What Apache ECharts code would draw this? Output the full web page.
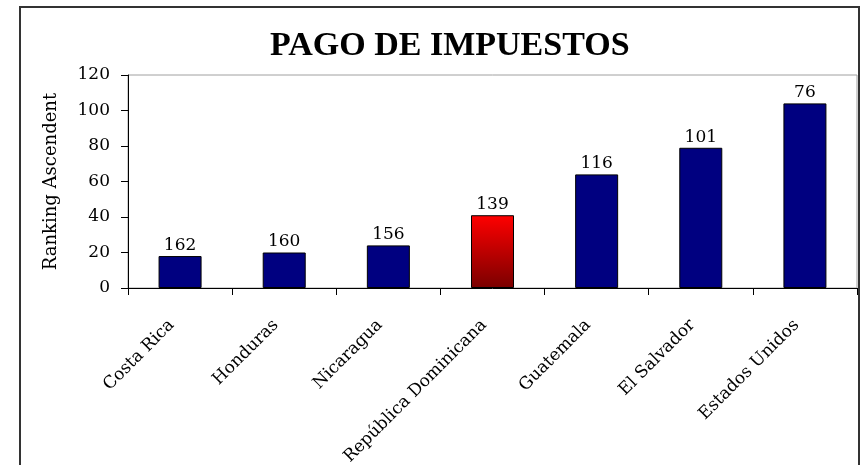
<!DOCTYPE html>
<html>
<head>
<meta charset="utf-8">
<script src="https://cdn.jsdelivr.net/npm/echarts@6/dist/echarts.min.js"></script>
<style>
  html, body { margin: 0; padding: 0; background: #fff; }
  #main { width: 861px; height: 465px; }
</style>
</head>
<body>
<div id="main"></div>
<script>
// datos
var paises = ['Costa Rica', 'Honduras', 'Nicaragua', 'República Dominicana', 'Guatemala', 'El Salvador', 'Estados Unidos'];
var alturas = [18, 20, 24, 41, 64, 79, 104];
var ranking = [162, 160, 156, 139, 116, 101, 76];
var yTicks = [0, 20, 40, 60, 80, 100, 120];

var serif = '"DejaVu Serif", serif';

var barras = alturas.map(function (v, i) {
    var item = { value: v };
    if (paises[i] == 'República Dominicana') {
        item.itemStyle = {
            color: new echarts.graphic.LinearGradient(0, 0, 0, 1, [
                { offset: 0, color: '#ff0000' },
                { offset: 1, color: '#7a0000' }
            ])
        };
    }
    return item;
});

var myChart = echarts.init(document.getElementById('main'));
var option = {
    backgroundColor: '#fff',
    animation: false,
    title: {
        text: 'PAGO DE IMPUESTOS',
        left: 265,
        top: 24,
        textStyle: {
            fontFamily: '"Liberation Serif", serif',
            fontWeight: 'bold',
            fontSize: 34,
            color: '#000'
        }
    },
    graphic: [{
        type: 'rect',
        shape: { x: 20, y: 7, width: 839, height: 500 },
        style: { fill: 'none', stroke: '#333', lineWidth: 2 },
        silent: true
    }],
    grid: {
        left: 128,
        top: 75,
        right: 4,
        bottom: 177,
        outerBoundsMode: 'none',
        containLabel: false,
        show: true,
        borderColor: '#a0a0a0',
        borderWidth: 1
    },
    xAxis: {
        type: 'category',
        data: paises,
        axisLine: { lineStyle: { color: '#000', width: 1 } },
        axisTick: { show: true, length: 7, lineStyle: { color: '#000' } },
        axisLabel: {
            interval: 0,
            rotate: 45,
            margin: 26,
            padding: [0, 12, 0, 0],
            color: '#000',
            fontFamily: serif,
            fontSize: 17
        }
    },
    yAxis: {
        type: 'value',
        min: yTicks[0],
        max: yTicks[yTicks.length - 1],
        interval: yTicks[1] - yTicks[0],
        name: 'Ranking Ascendent',
        nameLocation: 'middle',
        nameGap: 68,
        nameTextStyle: { color: '#000', fontFamily: serif, fontSize: 18 },
        splitLine: { show: false },
        axisLine: { show: true, lineStyle: { color: '#000', width: 1 } },
        axisTick: { show: true, length: 7, lineStyle: { color: '#000' } },
        axisLabel: { margin: 18, color: '#000', fontFamily: serif, fontSize: 17 }
    },
    series: [{
        type: 'bar',
        data: barras,
        barWidth: 43,
        itemStyle: { color: '#000080', borderColor: '#000', borderWidth: 1 },
        label: {
            show: true,
            position: 'top',
            distance: 2,
            color: '#000',
            fontFamily: serif,
            fontSize: 17,
            formatter: function (p) { return ranking[p.dataIndex]; }
        }
    }]
};
myChart.setOption(option);
</script>
</body>
</html>
